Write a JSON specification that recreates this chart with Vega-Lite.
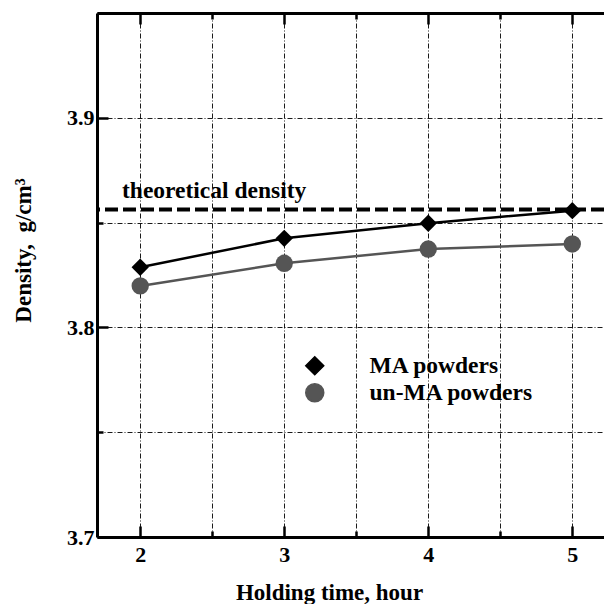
{
  "$schema": "https://vega.github.io/schema/vega-lite/v6.json",
  "width": 507,
  "height": 524,
  "autosize": {"type": "none"},
  "padding": {"left": 97, "top": 13, "right": 0, "bottom": 67},
  "config": {"view": {"stroke": null}, "font": "Liberation Serif"},
  "datasets": {
    "series": [
      {"hours": 2, "density": 3.8287, "series": "MA powders"},
      {"hours": 3, "density": 3.8425, "series": "MA powders"},
      {"hours": 4, "density": 3.8497, "series": "MA powders"},
      {"hours": 5, "density": 3.8557, "series": "MA powders"},
      {"hours": 2, "density": 3.8198, "series": "un-MA powders"},
      {"hours": 3, "density": 3.8306, "series": "un-MA powders"},
      {"hours": 4, "density": 3.8374, "series": "un-MA powders"},
      {"hours": 5, "density": 3.8398, "series": "un-MA powders"}
    ],
    "theory": [{"density": 3.8563, "label": "theoretical density"}]
  },
  "resolve": {"scale": {"x": "shared", "y": "shared"}, "axis": {"x": "independent"}},
  "layer": [
    {
      "data": {"name": "theory"},
      "mark": {"type": "rule", "strokeDash": [13, 5], "strokeWidth": 4, "color": "#000"},
      "encoding": {
        "y": {
          "field": "density", "type": "quantitative",
          "scale": {"domain": [3.7, 3.95], "nice": false, "zero": false},
          "axis": {
            "title": "Density,\u00a0\u00a0g/cm³",
            "values": [3.7, 3.75, 3.8, 3.85, 3.9, 3.95],
            "labelExpr": "abs(datum.value*10 - round(datum.value*10)) < 0.001 && datum.value < 3.94 ? format(datum.value, '.1f') : ''",
            "grid": true, "gridDash": [5, 2, 1, 2], "gridColor": "#000", "gridWidth": 0.9,
            "domainColor": "#000", "domainWidth": 3,
            "tickColor": "#000", "tickWidth": 2.5,
            "tickSize": {"condition": {"test": "abs(datum.value*10 - round(datum.value*10)) < 0.001", "value": -11}, "value": -6},
            "labelFontSize": 22, "labelFontWeight": "bold", "labelColor": "#000", "labelPadding": 14,
            "titleFontSize": 23, "titleFontWeight": "bold", "titleColor": "#000",
            "titleBaseline": "alphabetic", "titleX": -67, "titleY": 237, "titleAngle": -90
          }
        }
      }
    },
    {
      "data": {"name": "series"},
      "mark": {"type": "line", "strokeWidth": 2.5},
      "encoding": {
        "x": {
          "field": "hours", "type": "quantitative",
          "scale": {"domain": [1.7, 5.22], "nice": false, "zero": false},
          "axis": {
            "orient": "bottom",
            "title": "Holding time, hour",
            "values": [2, 2.5, 3, 3.5, 4, 4.5, 5],
            "labelExpr": "datum.value % 1 === 0 ? format(datum.value, 'd') : ''",
            "grid": true, "gridDash": [5, 2, 1, 2], "gridColor": "#000", "gridWidth": 0.9,
            "domainColor": "#000", "domainWidth": 3,
            "tickColor": "#000", "tickWidth": 2.5,
            "tickSize": {"condition": {"test": "datum.value % 1 === 0", "value": -11}, "value": -6},
            "labelFontSize": 22, "labelFontWeight": "bold", "labelColor": "#000", "labelPadding": 18,
            "titleFontSize": 23, "titleFontWeight": "bold", "titleColor": "#000",
            "titleBaseline": "alphabetic", "titleX": 232, "titleY": 62
          }
        },
        "y": {"field": "density", "type": "quantitative", "title": "Density,\u00a0\u00a0g/cm³"},
        "color": {
          "field": "series", "type": "nominal",
          "scale": {"domain": ["MA powders", "un-MA powders"], "range": ["#000000", "#555555"]}
        }
      }
    },
    {
      "data": {"name": "series"},
      "mark": {"type": "point", "filled": true, "opacity": 1, "size": 300},
      "encoding": {
        "x": {"field": "hours", "type": "quantitative", "scale": {"domain": [1.7, 5.22], "nice": false, "zero": false}, "axis": null},
        "y": {"field": "density", "type": "quantitative", "title": "Density,\u00a0\u00a0g/cm³"},
        "shape": {
          "field": "series", "type": "nominal",
          "scale": {"domain": ["MA powders", "un-MA powders"], "range": ["diamond", "circle"]},
          "legend": null
        },
        "color": {
          "field": "series", "type": "nominal",
          "scale": {"domain": ["MA powders", "un-MA powders"], "range": ["#000000", "#555555"]},
          "legend": {
            "title": null,
            "orient": "none",
            "legendX": 206,
            "legendY": 341,
            "padding": 0,
            "symbolSize": 324,
            "labelOffset": 43,
            "labelFontSize": 23.5,
            "labelFontWeight": "bold",
            "labelColor": "#000",
            "labelLimit": 400,
            "rowPadding": 2
          }
        }
      }
    },
    {
      "data": {"name": "theory"},
      "mark": {"type": "text", "align": "left", "baseline": "alphabetic", "dy": -11, "fontSize": 23.5, "fontWeight": "bold", "color": "#000"},
      "encoding": {
        "x": {"datum": 1.8736, "type": "quantitative", "scale": {"domain": [1.7, 5.22], "nice": false, "zero": false}, "axis": null},
        "y": {"field": "density", "type": "quantitative", "title": "Density,\u00a0\u00a0g/cm³"},
        "text": {"field": "label"}
      }
    },
    {
      "data": {"name": "series"},
      "mark": {"type": "rule", "opacity": 0},
      "encoding": {
        "x": {
          "field": "hours", "type": "quantitative",
          "scale": {"domain": [1.7, 5.22], "nice": false, "zero": false},
          "axis": {
            "orient": "top", "title": null, "labels": false, "grid": false,
            "values": [2, 2.5, 3, 3.5, 4, 4.5, 5],
            "domainColor": "#000", "domainWidth": 3,
            "tickColor": "#000", "tickWidth": 2.5,
            "tickSize": {"condition": {"test": "datum.value % 1 === 0", "value": -11}, "value": -6}
          }
        }
      }
    }
  ]
}
